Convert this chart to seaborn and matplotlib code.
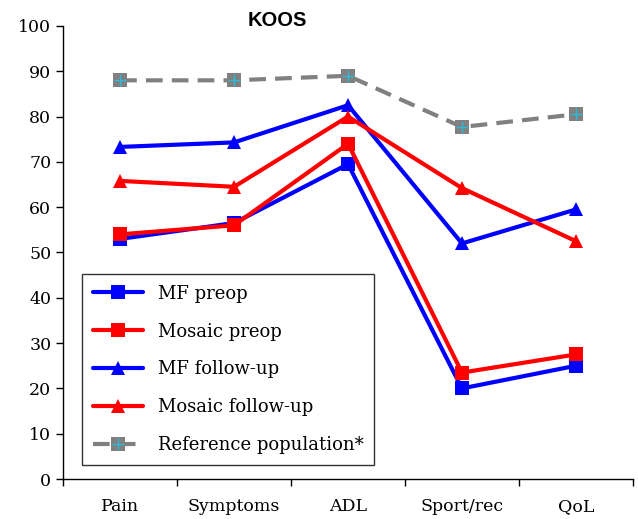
import matplotlib
matplotlib.use("Agg")
import matplotlib.pyplot as plt
import pandas as pd
import seaborn as sns

categories = ["Pain", "Symptoms", "ADL", "Sport/rec", "QoL"]
mf_preop = [53, 56.5, 69.5, 20, 25]
mosaic_preop = [54, 56, 74, 23.5, 27.5]
mf_followup = [73.3, 74.3, 82.5, 52, 59.5]
mosaic_followup = [65.8, 64.5, 80, 64.2, 52.5]
reference_pop = [88, 88, 89, 77.7, 80.5]

sns.set_theme(style="ticks")
plt.rcParams["font.family"] = ["DejaVu Serif"]
plt.rcParams["text.color"] = "black"
plt.rcParams["xtick.color"] = "black"
plt.rcParams["ytick.color"] = "black"

fig = plt.figure(figsize=(6.38, 5.19), dpi=100)
ax = fig.add_axes([0.099, 0.077, 0.893, 0.873])

x = list(range(len(categories)))

series = [
    ("MF preop", mf_preop, "#0000ff", "s"),
    ("Mosaic preop", mosaic_preop, "#ff0000", "s"),
    ("MF follow-up", mf_followup, "#0000ff", "^"),
    ("Mosaic follow-up", mosaic_followup, "#ff0000", "^"),
]

handles = []
for name, vals, col, mk in series:
    df = pd.DataFrame({"x": x, "y": vals})
    sns.lineplot(data=df, x="x", y="y", ax=ax, color=col, marker=mk,
                 markersize=10.5, linewidth=3, markeredgewidth=0)
    handles.append((ax.lines[-1], name))

df = pd.DataFrame({"x": x, "y": reference_pop})
sns.lineplot(data=df, x="x", y="y", ax=ax, color="#808080", marker="s",
             markersize=10.5, linewidth=3, linestyle=(0, (4, 2.2)),
             markeredgewidth=0)
ref_line = ax.lines[-1]
ax.plot(x, reference_pop, linestyle="none", marker="+", color="#30b8d8",
        markersize=9, markeredgewidth=1)
ref_plus = ax.lines[-1]
handles.append(((ref_line, ref_plus), "Reference population*"))

ax.set_xlim(-0.5, len(categories) - 0.5)
ax.set_ylim(0, 100)
ax.set_yticks(range(0, 101, 10))
ax.set_xticks(x)
ax.set_xticklabels(categories)
ax.set_xticks([i - 0.5 for i in range(len(categories) + 1)], minor=True)
ax.tick_params(axis="x", which="major", length=0, pad=14, labelsize=12.5)
ax.tick_params(axis="x", which="minor", length=5, width=1, color="black")
ax.tick_params(axis="y", length=5, width=1, color="black", labelsize=12.5)
ax.set_xlabel("")
ax.set_ylabel("")
for s in ["top", "right"]:
    ax.spines[s].set_visible(False)
for s in ["left", "bottom"]:
    ax.spines[s].set_color("black")
    ax.spines[s].set_linewidth(1)

ax.text(0.323, 1.012, "KOOS", transform=ax.transAxes, fontsize=14.5,
        fontweight="bold", family="Liberation Sans", va="center")

leg = ax.legend([h for h, _ in handles], [n for _, n in handles],
                loc="lower left", bbox_to_anchor=(0.033, 0.031), fontsize=13,
                frameon=True, fancybox=False, edgecolor="black",
                handlelength=2.8, labelspacing=1.1, borderpad=0.6,
                handletextpad=0.8, borderaxespad=0)
leg.get_frame().set_linewidth(1)

fig.savefig("out.png", dpi=100)
